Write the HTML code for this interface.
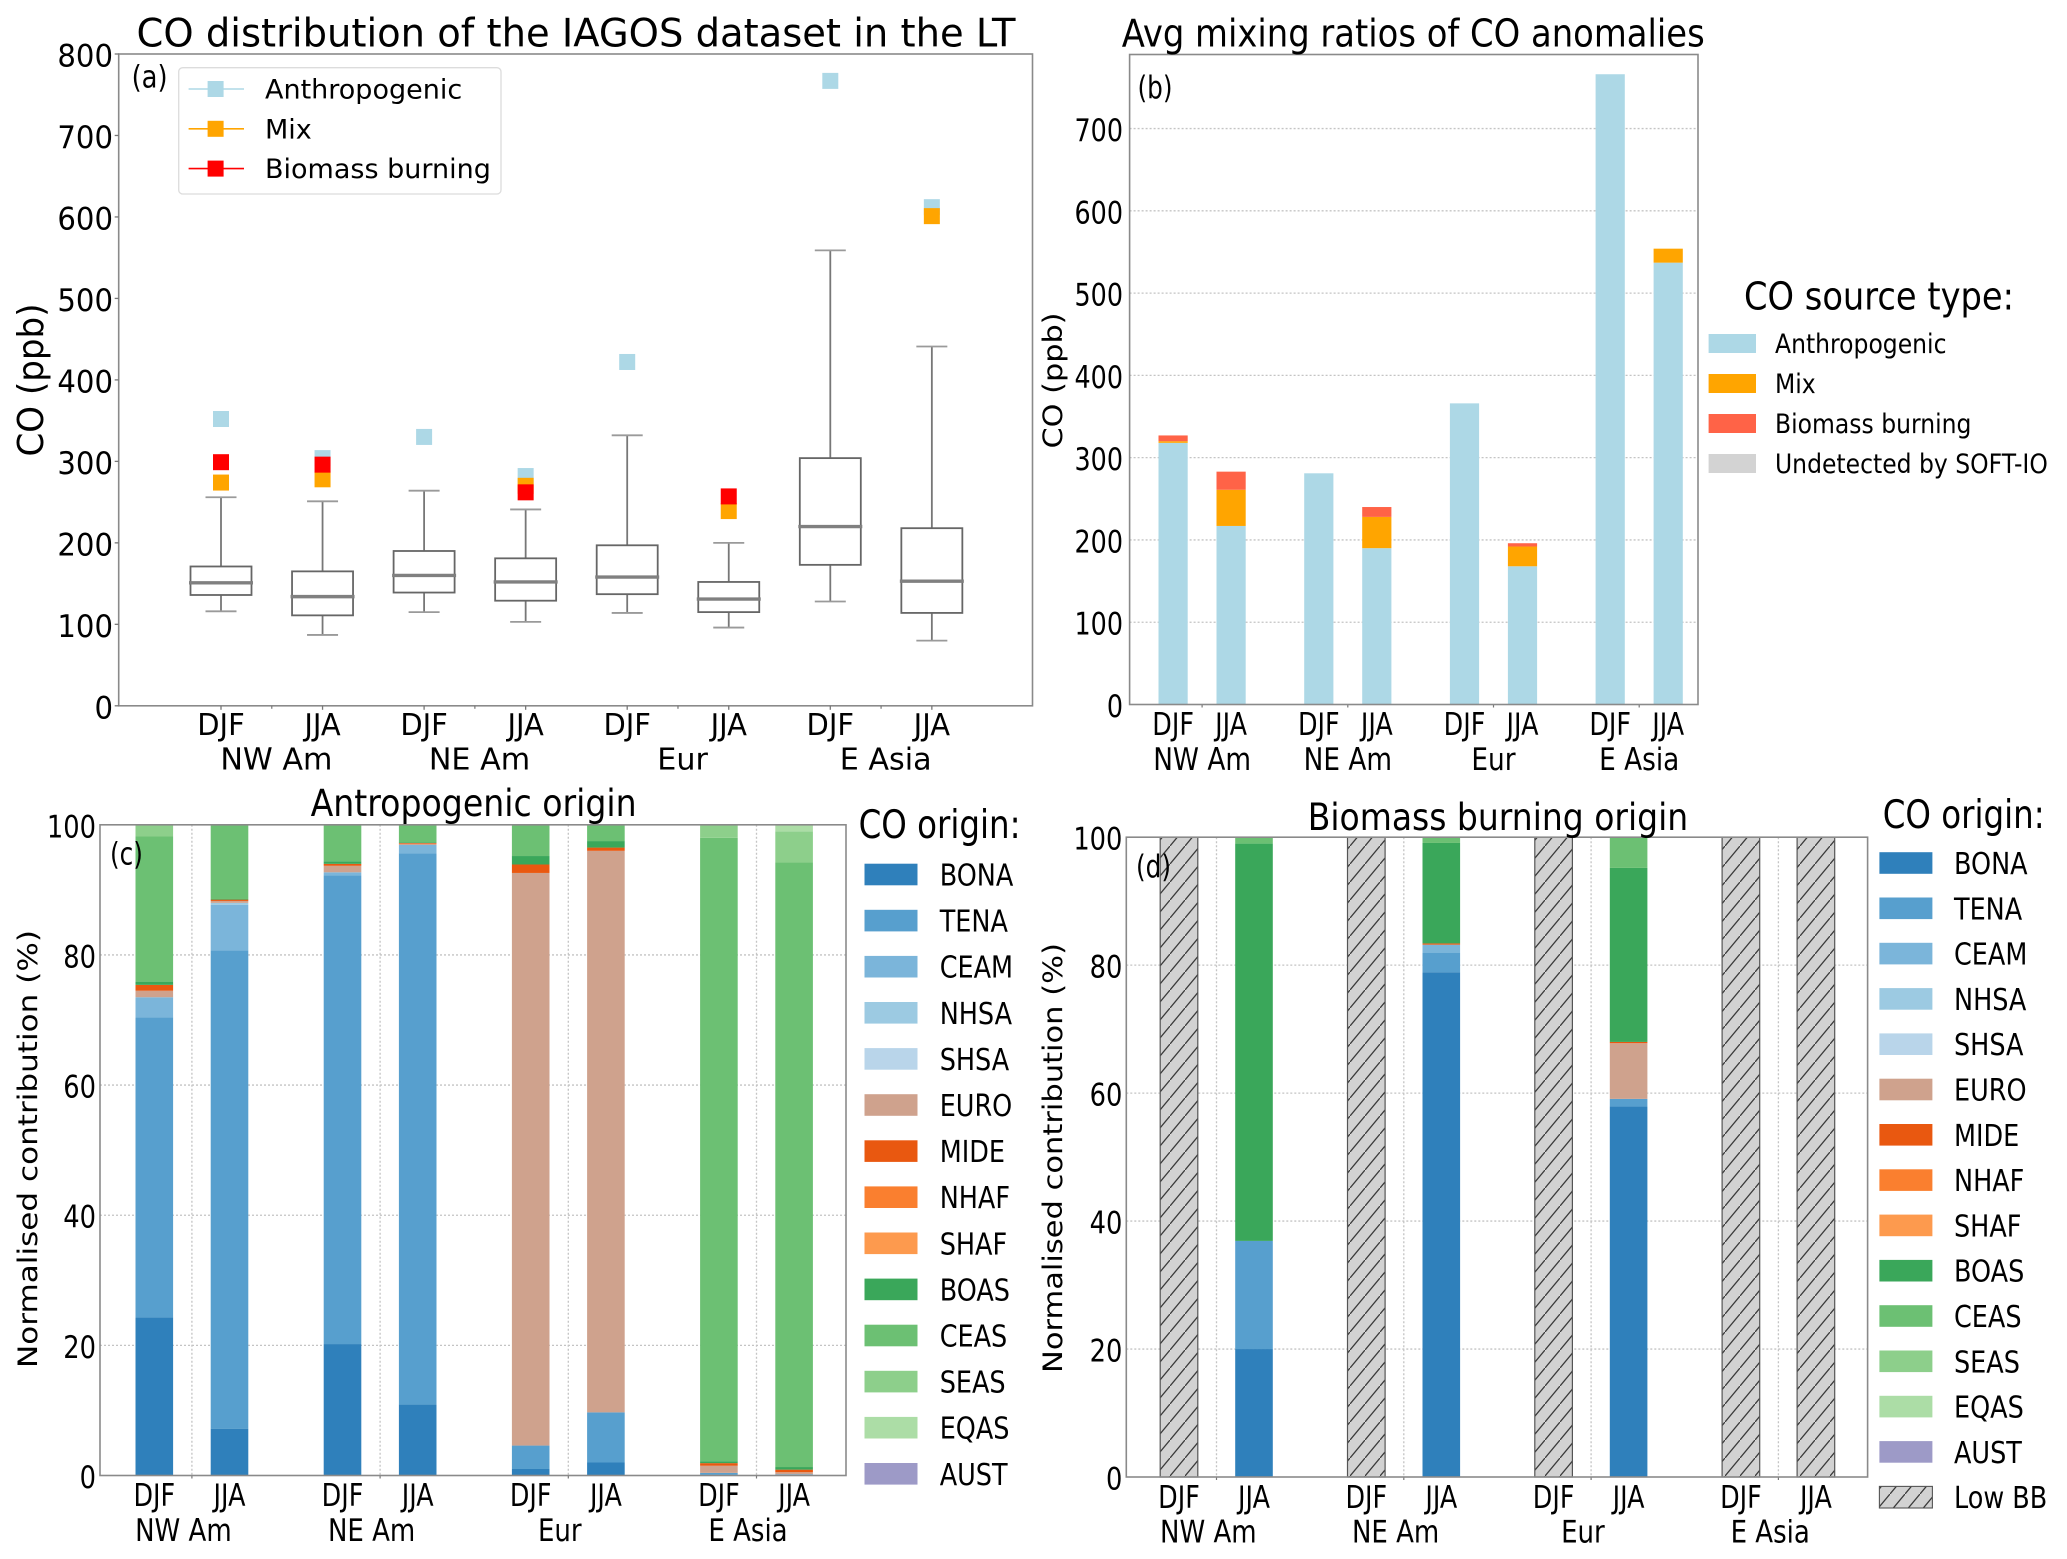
<!DOCTYPE html>
<html lang="en">
<head>
<meta charset="utf-8">
<title>CO distribution of the IAGOS dataset</title>
<style>
html,body{margin:0;padding:0;background:#fff;}
svg{display:block;}
text{font-family:"DejaVu Sans","Liberation Sans",sans-serif;fill:#000;}
</style>
</head>
<body>
<svg id="figure" xmlns="http://www.w3.org/2000/svg" width="2067" height="1559" viewBox="0 0 2067 1559">
  <defs>
    <pattern id="hatch" patternUnits="userSpaceOnUse" width="15" height="18">
      <rect width="15" height="18" fill="#d2d2d2"></rect>
      <line x1="-3" y1="21.6" x2="18" y2="-3.6" stroke="#3a3a3a" stroke-width="1.3"></line>
    </pattern>
  </defs>
  <rect width="2067" height="1559" fill="#fff"></rect>
  <g id="panelA"></g>
  <g id="panelB"></g>
  <g id="panelC"></g>
  <g id="panelD"></g>
  <text x="136.5" y="46.5" font-size="39" textLength="879" lengthAdjust="spacingAndGlyphs">CO distribution of the IAGOS dataset in the LT</text>
  <text x="1121.7" y="46.5" font-size="38" textLength="583" lengthAdjust="spacingAndGlyphs">Avg mixing ratios of CO anomalies</text>
  <text x="310.6" y="816" font-size="37" textLength="326" lengthAdjust="spacingAndGlyphs">Antropogenic origin</text>
  <text x="1307.7" y="830" font-size="37" textLength="380.5" lengthAdjust="spacingAndGlyphs">Biomass burning origin</text>
  <text x="1744" y="309.4" font-size="38" textLength="270" lengthAdjust="spacingAndGlyphs">CO source type:</text>
  <text x="858.6" y="838" font-size="39" textLength="162" lengthAdjust="spacingAndGlyphs">CO origin:</text>
  <text x="1882.7" y="827.8" font-size="39" textLength="162" lengthAdjust="spacingAndGlyphs">CO origin:</text>
  <text transform="translate(43,456.5) rotate(-90)" font-size="36" textLength="153" lengthAdjust="spacingAndGlyphs">CO (ppb)</text>
  <text transform="translate(1062,448.5) rotate(-90)" font-size="27" textLength="136" lengthAdjust="spacingAndGlyphs">CO (ppb)</text>
  <text transform="translate(37,1368) rotate(-90)" font-size="27" textLength="438" lengthAdjust="spacingAndGlyphs">Normalised contribution (%)</text>
  <text transform="translate(1062,1373) rotate(-90)" font-size="27" textLength="430" lengthAdjust="spacingAndGlyphs">Normalised contribution (%)</text>
  <text x="131.6" y="87.5" font-size="31" textLength="36" lengthAdjust="spacingAndGlyphs">(a)</text>
  <text x="1137.5" y="98" font-size="31" textLength="35" lengthAdjust="spacingAndGlyphs">(b)</text>
</svg>
<script>
// ---------- shared categories ----------
const seasons = ['DJF','JJA','DJF','JJA','DJF','JJA','DJF','JJA'];
const groups = ['NW Am','NE Am','Eur','E Asia'];

// ---------- panel (a): box statistics ----------
const whiskerLow = [116,87,115,103,114,96,128,80];
const quartile1 = [136,111,139,129,137,115,173,114];
const medians = [151,134,160,152,158,131,220,153];
const quartile3 = [171,165,190,181,197,152,304,218];
const whiskerHigh = [256,251,264,241,332,200,559,441];
const anomalyAnthropogenic = [352,304,330,282,422,null,767,612];
const anomalyMix = [274,278,null,270,null,239,null,601];
const anomalyBiomass = [299,296,null,262,null,257,null,null];
const yTicksA = [0,100,200,300,400,500,600,700,800];
const legendA = ['Anthropogenic','Mix','Biomass burning'];

// ---------- panel (b): stacked averages ----------
const avgAnthropogenic = [318,217,281,190,366,168,766,537];
const avgMix = [2,44,0,38,0,24,0,17];
const avgBiomass = [7,22,0,12,0,4,0,0];
const avgUndetected = [0,0,0,0,0,0,0,0];
const yTicksB = [0,100,200,300,400,500,600,700];
const legendB = ['Anthropogenic','Mix','Biomass burning','Undetected by SOFT-IO'];

// ---------- panels (c),(d): origin shares ----------
const regions = ['BONA','TENA','CEAM','NHSA','SHSA','EURO','MIDE','NHAF','SHAF','BOAS','CEAS','SEAS','EQAS','AUST'];
const anthroNwDjf = [24.3,46.1,3.1,0,0,1.0,0.9,0,0,0.5,22.3,1.8,0,0];
const anthroNwJja = [7.2,73.5,7,0.3,0,0.3,0.2,0,0,0.1,11.4,0,0,0];
const anthroNeDjf = [20.2,72,0.5,0,0,1,0.3,0,0,0.4,5.6,0,0,0];
const anthroNeJja = [10.9,84.7,1.3,0,0,0.2,0.1,0,0,0.1,2.7,0,0,0];
const anthroEuDjf = [1,3.6,0,0,0,88,1.3,0,0,1.3,4.8,0,0,0];
const anthroEuJja = [2,7.7,0,0,0,86.3,0.5,0,0,1,2.5,0,0,0];
const anthroAsDjf = [0.1,0.3,0,0,0,1.1,0.4,0,0,0.3,95.8,2,0,0];
const anthroAsJja = [0.1,0.1,0,0,0,0.3,0.4,0,0,0.4,92.9,4.8,1,0];
const biomassNwDjf = null;
const biomassNwJja = [20,16.9,0,0,0,0,0,0,0,62.1,1,0,0,0];
const biomassNeDjf = null;
const biomassNeJja = [78.9,3,1.3,0,0,0,0.2,0,0,15.7,0.9,0,0,0];
const biomassEuDjf = null;
const biomassEuJja = [57.9,1.2,0,0,0,8.7,0.2,0,0,27.2,4.8,0,0,0];
const biomassAsDjf = null;
const biomassAsJja = null;
const yTicksPct = [0,20,40,60,80,100];

const anthroStacks = [anthroNwDjf,anthroNwJja,anthroNeDjf,anthroNeJja,anthroEuDjf,anthroEuJja,anthroAsDjf,anthroAsJja];
const biomassStacks = [biomassNwDjf,biomassNwJja,biomassNeDjf,biomassNeJja,biomassEuDjf,biomassEuJja,biomassAsDjf,biomassAsJja];

const regionColors = ['#2f80bb','#579fce','#7bb5da','#9ccae2','#b9d5ea','#cfa28d','#e95810','#fa7f2f','#fd9a4e','#3aa75a','#6cc073','#8dcf8b','#acdda6','#9d9ac7'];

// ---------- helpers ----------
const NS = 'http://www.w3.org/2000/svg';
function mk(tag, attrs, parent){
  const e = document.createElementNS(NS, tag);
  for (const k in attrs) e.setAttribute(k, attrs[k]);
  parent.appendChild(e);
  return e;
}
function lab(parent, str, x, y, fs, anchor, sx){
  const e = mk('text', {transform:'translate('+x+','+y+') scale('+sx+',1)', 'font-size':fs, 'text-anchor':anchor}, parent);
  e.textContent = str;
  return e;
}
function frame(parent, L, R, T, B){
  const e = mk('rect', {x:L, y:T, width:R-L, height:B-T, fill:'none', stroke:'#8a8a8a', 'stroke-width':1.6}, parent);
  return e;
}
function gridLine(parent, x1, y1, x2, y2){
  return mk('line', {x1:x1, y1:y1, x2:x2, y2:y2, stroke:'#c4c4c4', 'stroke-width':1.3, 'stroke-dasharray':'2 2'}, parent);
}
function sLine(parent, x1, y1, x2, y2, color, w){
  return mk('line', {x1:x1, y1:y1, x2:x2, y2:y2, stroke:color, 'stroke-width':w}, parent);
}

// ---------- panel (a) ----------
(function(){
  const g = document.getElementById('panelA');
  const L=118.7, R=1032.5, T=54, B=705.8;
  const yA = v => B - v*(B-T)/800;
  const xA = i => 221 + 101.55*i;
  const axisFrame = frame(g,L,R,T,B);
  
  
  yTicksA.forEach(v=>{
    const tick = sLine(g,L-4,yA(v),L,yA(v),'#777',1.3);
    
    
    const t = lab(g,String(v),113,yA(v)+12.5,31,'end',0.94);
    
    
  });
  seasons.forEach((s,i)=>{
    const x = xA(i), hw = 30.5, cw = 15.5;
    const wh1 = sLine(g,x,yA(quartile3[i]),x,yA(whiskerHigh[i]),'#777',1.8);
    
    
    const wh2 = sLine(g,x,yA(quartile1[i]),x,yA(whiskerLow[i]),'#777',1.8);
    
    
    const c1 = sLine(g,x-cw,yA(whiskerHigh[i]),x+cw,yA(whiskerHigh[i]),'#9a9a9a',1.8);
    
    
    const c2 = sLine(g,x-cw,yA(whiskerLow[i]),x+cw,yA(whiskerLow[i]),'#9a9a9a',1.8);
    
    
    const box = mk('rect',{x:x-hw,y:yA(quartile3[i]),width:2*hw,height:yA(quartile1[i])-yA(quartile3[i]),fill:'#fff',stroke:'#666','stroke-width':1.8},g);
    
    
    const m = sLine(g,x-32,yA(medians[i]),x+32,yA(medians[i]),'#808080',3.4);
    
    
    const sz = 16;
    if (anomalyAnthropogenic[i]!==null){
      const r = mk('rect',{x:x-sz/2,y:yA(anomalyAnthropogenic[i])-sz/2,width:sz,height:sz,fill:'#add8e6'},g);
      
      
    }
    if (anomalyMix[i]!==null){
      const r = mk('rect',{x:x-sz/2,y:yA(anomalyMix[i])-sz/2,width:sz,height:sz,fill:'#ffa500'},g);
      
      
    }
    if (anomalyBiomass[i]!==null){
      const r = mk('rect',{x:x-sz/2,y:yA(anomalyBiomass[i])-sz/2,width:sz,height:sz,fill:'#ff0000'},g);
      
      
    }
    const tick = sLine(g,x,B,x,B+4,'#777',1.3);
    
    
    const t = lab(g,s,x,735,30.5,'middle',0.95);
    
    
  });
  groups.forEach((s,i)=>{
    const mid = (xA(2*i)+xA(2*i+1))/2;
    const minor = sLine(g,mid,B,mid,B+3,'#777',1.2);
    
    
    const t = lab(g,s,mid+4.6,769.5,30.5,'middle',0.99);
    
    
  });
  const box = mk('rect',{x:178.7,y:67.7,width:322.3,height:126.3,rx:4,fill:'#fff','fill-opacity':0.85,stroke:'#dcdcdc','stroke-width':1.3},g);
  
  
  const legColors = ['#add8e6','#ffa500','#ff0000'];
  legendA.forEach((s,i)=>{
    const cy = 89 + 39.8*i;
    const ln = sLine(g,188.6,cy,244,cy,legColors[i],1.6);
    
    
    const sq = mk('rect',{x:207.6,y:cy-8,width:16,height:16,fill:legColors[i]},g);
    
    
    const t = lab(g,s,265,cy+9.5,27,'start',1);
    
    
  });
})();

// ---------- panel (b) ----------
(function(){
  const g = document.getElementById('panelB');
  const L=1129.6, R=1698, T=54.5, B=704.5;
  const yB = v => B - v*0.8228;
  const xB = i => 1173.1 + 58*(i%2) + 145.7*Math.floor(i/2);
  yTicksB.forEach(v=>{
    if (v>0){
      const gl = gridLine(g,L,yB(v),R,yB(v));
      
      
    }
    const t = lab(g,String(v),1123,yB(v)+12.5,31,'end',0.82);
    
    
  });
  const stackSeries = [avgAnthropogenic,avgMix,avgBiomass,avgUndetected];
  const stackColors = ['#add8e6','#ffa500','#ff6347','#d3d3d3'];
  seasons.forEach((s,i)=>{
    let base = 0;
    stackSeries.forEach((ser,k)=>{
      if (ser[i]>0){
        const r = mk('rect',{x:xB(i)-14.6,y:yB(base+ser[i]),width:29.2,height:yB(base)-yB(base+ser[i]),fill:stackColors[k]},g);
        
        
      }
      base += ser[i];
    });
    const t = lab(g,s,xB(i),735,31,'middle',0.82);
    
    
  });
  groups.forEach((s,i)=>{
    const mid = (xB(2*i)+xB(2*i+1))/2;
    const minor = sLine(g,mid,B,mid,B+3,'#777',1.2);
    
    
    const t = lab(g,s,mid,770,31,'middle',0.85);
    
    
  });
  const axisFrame = frame(g,L,R,T,B);
  
  
  legendB.forEach((s,i)=>{
    const cy = 343.5 + 40*i;
    const sw = mk('rect',{x:1708.6,y:cy-9.5,width:47.4,height:19,fill:stackColors[i]},g);
    
    
    const t = lab(g,s,1775,cy+9.5,27,'start',0.87);
    
    
  });
})();

// ---------- stacked origin panels ----------
function originPanel(id, prefix, stacks, cfg){
  const g = document.getElementById(id);
  const L=cfg.L, R=cfg.R, T=cfg.T, B=cfg.B;
  const yP = v => B - v*(B-T)/100;
  const xP = i => cfg.x0 + cfg.dx*(i%2) + cfg.gx*Math.floor(i/2);
  yTicksPct.forEach(v=>{
    if (v>0 && v<100){
      const gl = gridLine(g,L,yP(v),R,yP(v));
      
      
    }
    const t = lab(g,String(v),cfg.tickRight,yP(v)+12.5,31,'end',0.83);
    
    
  });
  groups.forEach((s,i)=>{
    const mid = (xP(2*i)+xP(2*i+1))/2;
    const gl = gridLine(g,mid,T,mid,B);
    
    
    const minor = sLine(g,mid,B,mid,B+3,'#777',1.2);
    
    
    const t = lab(g,s,mid+cfg.groupShift,cfg.groupY,31,'middle',0.84);
    
    
  });
  seasons.forEach((s,i)=>{
    const x = xP(i)-18.8, w = 37.6;
    const stack = stacks[i];
    if (stack===null){
      const r = mk('rect',{x:x,y:T,width:w,height:B-T,fill:'url(#hatch)',stroke:'#555','stroke-width':1.2},g);
      
      
    } else {
      let base = 0;
      stack.forEach((val,k)=>{
        if (val>0){
          const r = mk('rect',{x:x,y:yP(base+val),width:w,height:yP(base)-yP(base+val),fill:regionColors[k]},g);
          
          
        }
        base += val;
      });
    }
    const t = lab(g,s,xP(i),cfg.seasonY,31,'middle',0.82);
    
    
  });
  const axisFrame = frame(g,L,R,T,B);
  
  
  regions.forEach((s,i)=>{
    const cy = cfg.legY + cfg.legDy*i;
    const sw = mk('rect',{x:cfg.legX,y:cy-10.8,width:53,height:21.6,fill:regionColors[i]},g);
    
    
    const t = lab(g,s,cfg.legTextX,cy+11,30,'start',0.85);
    
    
  });
  if (cfg.lowLabel){
    const cy = cfg.legY + cfg.legDy*regions.length;
    const sw = mk('rect',{x:cfg.legX,y:cy-10.8,width:53,height:21.6,fill:'url(#hatch)',stroke:'#555','stroke-width':1.1},g);
    
    
    const t = lab(g,cfg.lowLabel,cfg.legTextX,cy+11,30,'start',0.85);
    
    
  }
  const letter = lab(g,cfg.letter,cfg.letterX,cfg.letterY,31,'start',0.8);
  
  
}
originPanel('panelC','panel-c',anthroStacks,{L:100,R:846,T:824.8,B:1475.5,x0:154.3,dx:75.2,gx:188.2,tickRight:96,groupShift:-8.5,groupY:1541,seasonY:1506,legX:864.5,legY:874.5,legDy:46.1,legTextX:939.7,lowLabel:null,letter:'(c)',letterX:110,letterY:864.6});
originPanel('panelD','panel-d',biomassStacks,{L:1126.3,R:1867.6,T:837.2,B:1477,x0:1179,dx:75,gx:187.3,tickRight:1122.4,groupShift:-8.2,groupY:1542.6,seasonY:1508,legX:1879.4,legY:863,legDy:45.3,legTextX:1954,lowLabel:'Low BB',letter:'(d)',letterX:1136,letterY:877});
</script>
</body>
</html>
